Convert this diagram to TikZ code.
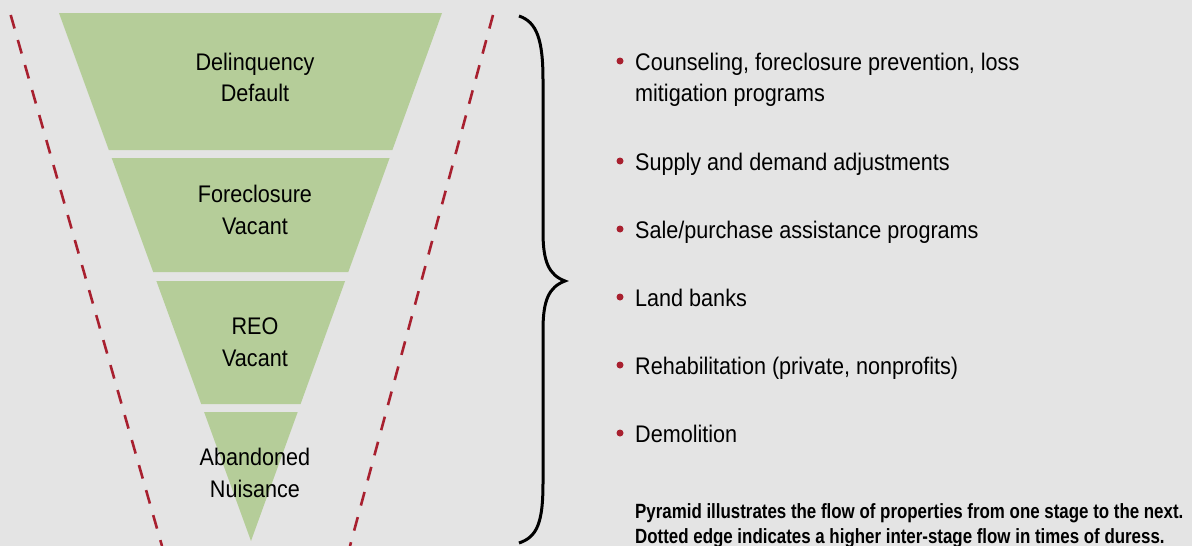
\documentclass[tikz,border=0pt]{standalone}
\usepackage{fontspec}
\setmainfont{Liberation Sans}[FakeStretch=0.9]
\newfontfamily\capfont{Liberation Sans}[FakeStretch=0.82]
\definecolor{bg}{HTML}{E4E4E4}
\definecolor{band}{HTML}{B5CD99}
\definecolor{dashred}{HTML}{A8202F}
\tikzset{
  bandfill/.style={fill=band, draw=none},
  flowedge/.style={draw=dashred, line width=2.6pt, dash pattern=on 14pt off 12pt},
  stagelabel/.style={anchor=base, inner sep=0pt, font=\fontsize{24}{32}\selectfont},
  itemtext/.style={anchor=base west, inner sep=0pt, font=\fontsize{24}{32}\selectfont},
  itemdot/.style={fill=dashred},
  bracepath/.style={draw=black, line width=3pt},
  captext/.style={anchor=base west, inner sep=0pt, font=\capfont\bfseries\fontsize{20.6}{25}\selectfont}
}
\begin{document}
\begin{tikzpicture}[x=1pt,y=-1pt]
\fill[bg] (0,0) rectangle (1192,546);
\useasboundingbox (0,0) rectangle (1192,546);
% funnel bands
\fill[bandfill] (59,13) -- (442,13) -- (392.4,150) -- (108.8,150) -- cycle;
\fill[bandfill] (111.7,158) -- (389.6,158) -- (348.3,272) -- (153.2,272) -- cycle;
\fill[bandfill] (156.4,281) -- (345.1,281) -- (300.6,404) -- (201.2,404) -- cycle;
\fill[bandfill] (204.1,412) -- (297.7,412) -- (251,541) -- cycle;
% dashed edges
\coordinate (lt) at (10.7,15);
\coordinate (lb) at (162,546);
\coordinate (rt) at (493,15);
\coordinate (rb) at (350,546);
\draw[flowedge] (lt) -- (lb);
\draw[flowedge] (rt) -- (rb);
% stage labels
\node[stagelabel] (s1) at (255,70) {\begin{tabular}[t]{@{}c@{}}Delinquency\\Default\end{tabular}};
\node[stagelabel] (s2) at (255,202) {\begin{tabular}[t]{@{}c@{}}Foreclosure\\Vacant\end{tabular}};
\node[stagelabel] (s3) at (255,334) {\begin{tabular}[t]{@{}c@{}}REO\\Vacant\end{tabular}};
\node[stagelabel] (s4) at (255,465) {\begin{tabular}[t]{@{}c@{}}Abandoned\\Nuisance\end{tabular}};
% brace
\coordinate (bt) at (519,16);
\coordinate (btip) at (565,281);
\coordinate (bb) at (519,543);
\draw[bracepath] (bt) .. controls (537,22) and (543,40) .. (543,80) -- (543,232)
  .. controls (543,262) and (549,275) .. (btip)
  .. controls (549,287) and (543,300) .. (543,330) -- (543,483)
  .. controls (543,523) and (537,537) .. (bb);
% bullet items
\node[itemtext] (i1) at (635,70) {\begin{tabular}[t]{@{}l@{}}Counseling, foreclosure prevention, loss\\mitigation programs\end{tabular}};
\node[itemtext] (i2) at (635,170) {Supply and demand adjustments};
\node[itemtext] (i3) at (635,238) {Sale/purchase assistance programs};
\node[itemtext] (i4) at (635,306) {Land banks};
\node[itemtext] (i5) at (635,374) {Rehabilitation (private, nonprofits)};
\node[itemtext] (i6) at (635,442) {Demolition};
\foreach \y in {61,161,229,297,365,433} \fill[itemdot] (620,\y) circle (3.5pt);
% caption
\node[captext] (cap) at (635,518) {\begin{tabular}[t]{@{}l@{}}Pyramid illustrates the flow of properties from one stage to the next.\\Dotted edge indicates a higher inter-stage flow in times of duress.\end{tabular}};
\end{tikzpicture}
\end{document}
